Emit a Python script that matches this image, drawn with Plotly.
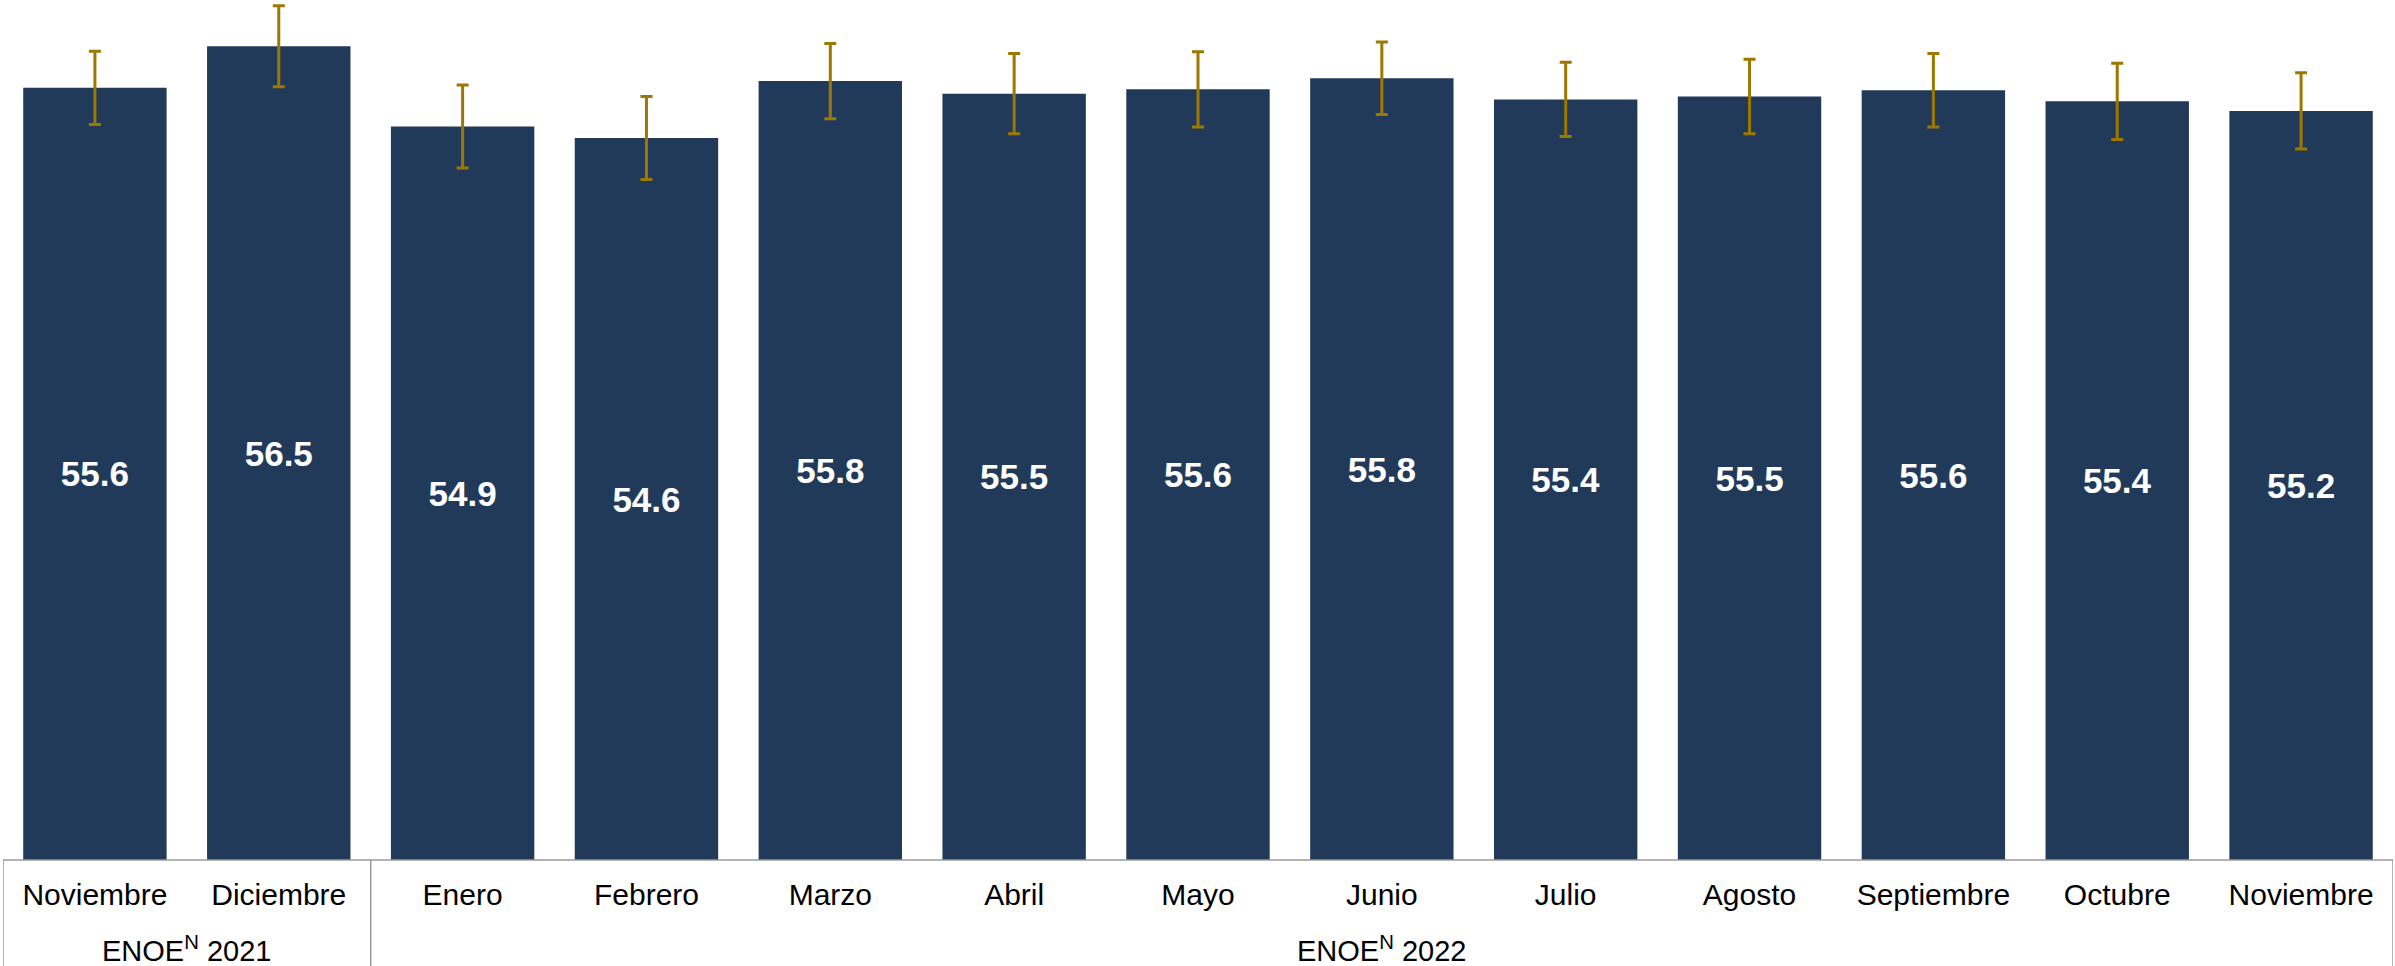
import plotly.graph_objects as go

# ---- data ----
months = ["Noviembre", "Diciembre", "Enero", "Febrero", "Marzo", "Abril", "Mayo",
          "Junio", "Julio", "Agosto", "Septiembre", "Octubre", "Noviembre"]
values = [55.64, 56.50, 54.84, 54.60, 55.78, 55.52, 55.61,
          55.84, 55.40, 55.46, 55.59, 55.36, 55.16]
labels = ["55.6", "56.5", "54.9", "54.6", "55.8", "55.5", "55.6",
          "55.8", "55.4", "55.5", "55.6", "55.4", "55.2"]
errors = [0.76, 0.84, 0.86, 0.86, 0.78, 0.83, 0.78,
          0.75, 0.77, 0.77, 0.76, 0.79, 0.79]
groups = ["ENOE<sup>N</sup> 2021", "ENOE<sup>N</sup> 2022"]
group_sizes = [2, 11]

y_min, y_max = 39.64, 57.46

BAR = "#223A5A"
ERR = "#9C7800"
LINE = "#9A9A9A"
FONT = "Liberation Sans, Arial, sans-serif"

x = list(range(len(months)))
lengths = [v - y_min for v in values]

fig = go.Figure()
fig.add_trace(go.Bar(
    x=x, y=lengths, base=[y_min] * len(x),
    width=0.78,
    marker=dict(color=BAR, line=dict(width=0)),
    text=labels, textposition="inside", insidetextanchor="middle",
    textangle=0,
    textfont=dict(family=FONT, size=35, color="white", weight="bold"),
    error_y=dict(type="data", array=errors, visible=True,
                 color=ERR, thickness=3, width=6),
    hoverinfo="skip",
))

# group box lines
shapes = []
bounds = [-0.5]
for s in group_sizes:
    bounds.append(bounds[-1] + s)
shapes.append(dict(type="line", xref="x", yref="paper", x0=-0.5, x1=12.5,
                   y0=0, y1=0, line=dict(color=LINE, width=1.5)))
for b in bounds:
    shapes.append(dict(type="line", xref="x", yref="paper", x0=b, x1=b,
                       y0=0, y1=-0.2, line=dict(color=LINE, width=1.5)))

annotations = []
for i, g in enumerate(groups):
    cx = (bounds[i] + bounds[i + 1]) / 2
    annotations.append(dict(x=cx, xref="x", y=-0.1035, yref="paper",
                            text=g, showarrow=False, yanchor="middle",
                            font=dict(family=FONT, size=29, color="black")))

fig.update_layout(
    width=2395, height=966,
    margin=dict(l=3, r=2, t=0, b=106),
    paper_bgcolor="white", plot_bgcolor="white",
    showlegend=False,
    shapes=shapes, annotations=annotations,
    xaxis=dict(range=[-0.5, 12.5], tickvals=x, ticktext=months,
               showgrid=False, zeroline=False, showline=False, ticks="",
               ticklabelstandoff=14,
               tickfont=dict(family=FONT, size=30, color="black"),
               fixedrange=True),
    yaxis=dict(range=[y_min, y_max], visible=False, showgrid=False,
               zeroline=False, fixedrange=True),
    font=dict(family=FONT),
)

fig.write_html("out.html",
               config={"displayModeBar": False},
               post_script="document.body.style.margin='0';document.body.style.overflow='hidden';")
